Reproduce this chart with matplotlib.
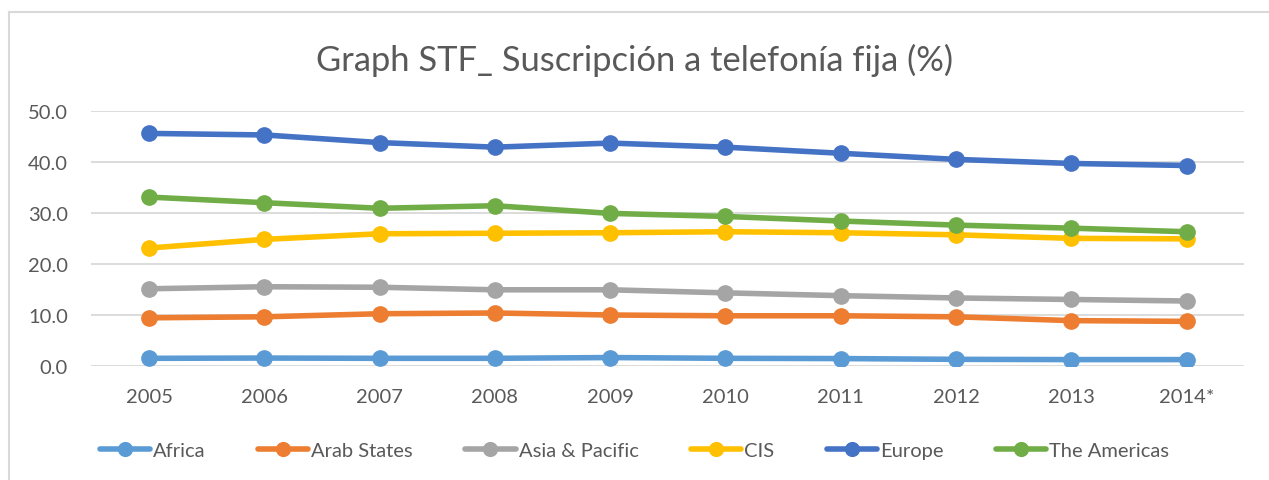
import numpy as np
import matplotlib
matplotlib.use("Agg")
import matplotlib.pyplot as plt
from matplotlib.lines import Line2D

# ------------------------------------------------------------
# DATA
# ------------------------------------------------------------
YEARS = ["2005", "2006", "2007", "2008", "2009", "2010", "2011", "2012", "2013", "2014*"]

AFRICA   = [1.45, 1.5, 1.45, 1.45, 1.6, 1.45, 1.4, 1.25, 1.2, 1.2]
ARAB     = [9.4, 9.6, 10.2, 10.35, 9.95, 9.8, 9.8, 9.6, 8.85, 8.7]
ASIA     = [15.1, 15.5, 15.4, 14.9, 14.9, 14.3, 13.75, 13.3, 13.0, 12.7]
CIS      = [23.1, 24.8, 25.9, 26.0, 26.1, 26.3, 26.1, 25.7, 25.0, 24.9]
EUROPE   = [45.6, 45.3, 43.8, 42.9, 43.7, 42.9, 41.7, 40.5, 39.7, 39.3]
AMERICAS = [33.1, 32.0, 30.9, 31.4, 29.9, 29.3, 28.4, 27.6, 27.0, 26.3]

SERIES = [
    ("Africa", AFRICA, "#5b9bd5"),
    ("Arab States", ARAB, "#ed7d31"),
    ("Asia & Pacific", ASIA, "#a5a5a5"),
    ("CIS", CIS, "#ffc000"),
    ("Europe", EUROPE, "#4472c4"),
    ("The Americas", AMERICAS, "#70ad47"),
]

TITLE = "Graph STF_ Suscripción a telefonía fija (%)"

FONT = "Lato"
TEXT_COLOR = "#595959"
GRID_COLOR = "#d9d9d9"

W, H = 1269, 481
DPI = 100

plt.rcParams["font.family"] = [FONT, "DejaVu Sans"]

fig = plt.figure(figsize=(W / DPI, H / DPI), dpi=DPI)

# chart border (top and left visible)
fig.add_artist(Line2D([9 / W, 9 / W], [0, 1 - 13 / H], transform=fig.transFigure,
                      color=GRID_COLOR, lw=1.5))
fig.add_artist(Line2D([9 / W, 1], [1 - 13 / H, 1 - 13 / H], transform=fig.transFigure,
                      color=GRID_COLOR, lw=1.5))

left, right = 91.4 / W, 1244.3 / W
bottom, top = 1 - 366.7 / H, 1 - 112 / H
ax = fig.add_axes([left, bottom, right - left, top - bottom])

x = np.arange(len(YEARS))
for name, vals, col in SERIES:
    ax.plot(x, vals, color=col, lw=4, marker="o", markersize=11,
            label=name, solid_capstyle="round", zorder=3)

ax.set_xlim(-0.5, len(YEARS) - 0.5)
ax.set_ylim(0, 50)
ax.set_yticks(np.arange(0, 51, 10))
ax.set_yticklabels([f"{v:.1f}" for v in np.arange(0, 51, 10)])
ax.set_xticks(x)
ax.set_xticklabels(YEARS)

ax.grid(axis="y", color=GRID_COLOR, lw=1.3)
ax.set_axisbelow(True)
for s in ax.spines.values():
    s.set_visible(False)
ax.tick_params(length=0, labelsize=14.5, colors=TEXT_COLOR)
ax.tick_params(axis="x", pad=16)
ax.tick_params(axis="y", pad=17)

fig.text(0.5, 1 - 60 / H, TITLE, ha="center", va="center",
         fontsize=24.8, color=TEXT_COLOR)

handles, labels = ax.get_legend_handles_labels()
fig.legend(handles, labels, loc="center", bbox_to_anchor=(0.5, 1 - 451 / H),
           ncol=6, frameon=False, fontsize=14.5, labelcolor=TEXT_COLOR,
           handlelength=2.5, columnspacing=2.6, handletextpad=0.15, markerscale=0.9)

fig.savefig("out.png", dpi=DPI, facecolor="white")
